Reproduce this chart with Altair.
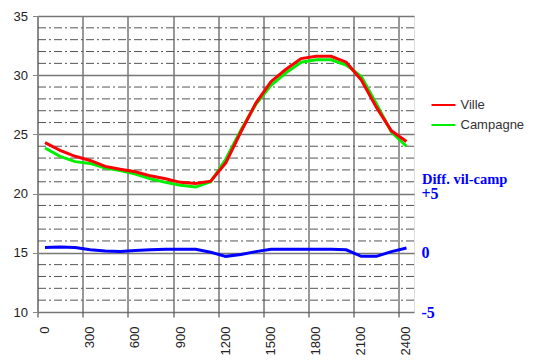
import altair as alt
import pandas as pd

# Time of day (HHMM scale) of each reading
hours = [50, 150, 250, 350, 450, 550, 650, 750, 850, 950, 1050, 1150, 1250,
         1350, 1450, 1550, 1650, 1750, 1850, 1950, 2050, 2150, 2250, 2350, 2450]
ville = [24.3, 23.65, 23.15, 22.8, 22.3, 22.05, 21.85, 21.5, 21.25, 20.95, 20.85, 21.05, 22.6,
         25.2, 27.65, 29.45, 30.5, 31.4, 31.6, 31.6, 31.1, 29.6, 27.3, 25.3, 24.4]
campagne = [23.85, 23.15, 22.7, 22.55, 22.15, 21.95, 21.65, 21.25, 20.95, 20.7, 20.55, 21.0, 22.9,
            25.35, 27.55, 29.15, 30.2, 31.1, 31.3, 31.3, 30.85, 29.9, 27.6, 25.2, 24.0]
diff = [0.45, 0.5, 0.45, 0.25, 0.15, 0.1, 0.2, 0.25, 0.3, 0.3, 0.3, 0.05, -0.3,
        -0.15, 0.1, 0.3, 0.3, 0.3, 0.3, 0.3, 0.25, -0.3, -0.3, 0.1, 0.4]

series_names = ["Ville", "Campagne"]
series_colors = ["#ff0000", "#00ee00"]
x_ticks = [0, 300, 600, 900, 1200, 1500, 1800, 2100, 2400]
y_ticks = [10, 15, 20, 25, 30, 35]
minor_levels = [11, 12, 13, 14, 16, 17, 18, 19, 21, 22, 23, 24,
                26, 27, 28, 29, 31, 32, 33, 34]
diff_ticks = [-5, 0, 5]
diff_title = "Diff. vil-camp"

df_v = pd.DataFrame({"heure": hours, "temp": ville, "serie": "Ville"})
df_c = pd.DataFrame({"heure": hours, "temp": campagne, "serie": "Campagne"})
df_d = pd.DataFrame({"heure": hours, "diff": diff})
df_minor = pd.DataFrame({"niveau": minor_levels})

x_scale = alt.Scale(domain=[0, 2500], nice=False, zero=False)
y_scale = alt.Scale(domain=[10, 35], nice=False, zero=False)

x_axis = alt.Axis(values=x_ticks, format="d", grid=True, gridColor="#333333", gridWidth=1,
                  ticks=True, tickSize=5, tickColor="#333333", domain=False,
                  labelAngle=-90, labelFont="Liberation Sans", labelFontSize=13,
                  labelColor="#222222", labelPadding=9, labelOffset=7, title=None)
y_axis = alt.Axis(values=y_ticks, format="d", grid=True, gridColor="#777777", gridWidth=1.5,
                  ticks=True, tickSize=5, tickColor="#888888", domain=True,
                  domainColor="#888888", domainWidth=1.5,
                  labelFont="Liberation Sans", labelFontSize=13, labelColor="#222222",
                  labelPadding=5, title=None)

color = alt.Color("serie:N",
                  scale=alt.Scale(domain=series_names, range=series_colors),
                  legend=alt.Legend(title=None, orient="none", legendX=393, legendY=76,
                                    symbolType="stroke", symbolSize=576,
                                    symbolStrokeWidth=2, labelOffset=4,
                                    labelFont="Liberation Sans", labelFontSize=13,
                                    labelColor="#333333", rowPadding=0, padding=0))

minor = alt.Chart(df_minor).mark_rule(color="#555555", strokeWidth=1,
                                      strokeDash=[8, 3, 2, 3]).encode(
    y=alt.Y("niveau:Q", scale=y_scale, axis=y_axis)
)

green = alt.Chart(df_c).mark_line(strokeWidth=3).encode(
    x=alt.X("heure:Q", scale=x_scale, axis=x_axis),
    y=alt.Y("temp:Q", scale=y_scale),
    color=color,
)
red = alt.Chart(df_v).mark_line(strokeWidth=3).encode(
    x=alt.X("heure:Q", scale=x_scale),
    y=alt.Y("temp:Q", scale=y_scale),
    color=color,
)

diff_axis = alt.Axis(orient="right", values=diff_ticks, grid=False, ticks=False, domain=False,
                     labelExpr="datum.value > 0 ? '+' + datum.value : (datum.value < 0 ? '-' + (-datum.value) : '\u2007' + '0')",
                     labelAlign="left", labelPadding=7, labelFont="Liberation Serif",
                     labelFontWeight="bold", labelFontSize=16, labelColor="#0000ff",
                     title=diff_title, titleAngle=0, titleAlign="left", titleBaseline="middle",
                     titleX=7.5, titleY=163, titleFont="Liberation Serif",
                     titleFontWeight="bold", titleFontSize=14.5, titleColor="#0000ff")

blue = alt.Chart(df_d).mark_line(strokeWidth=3, color="#0000ff").encode(
    x=alt.X("heure:Q", scale=x_scale),
    y=alt.Y("diff:Q", scale=alt.Scale(domain=[-5, 20], nice=False, zero=False), axis=diff_axis),
)

main = alt.layer(minor, green, red)
chart = alt.layer(main, blue).resolve_scale(y="independent").properties(
    width=376.5, height=296,
    autosize=alt.AutoSizeParams(type="none"),
    padding={"left": 29.5, "top": 8, "right": 111, "bottom": 44},
).configure_view(stroke="#999999", strokeWidth=1).configure(background="white")

chart.save("out.html", embed_options={"renderer": "svg", "actions": False})
